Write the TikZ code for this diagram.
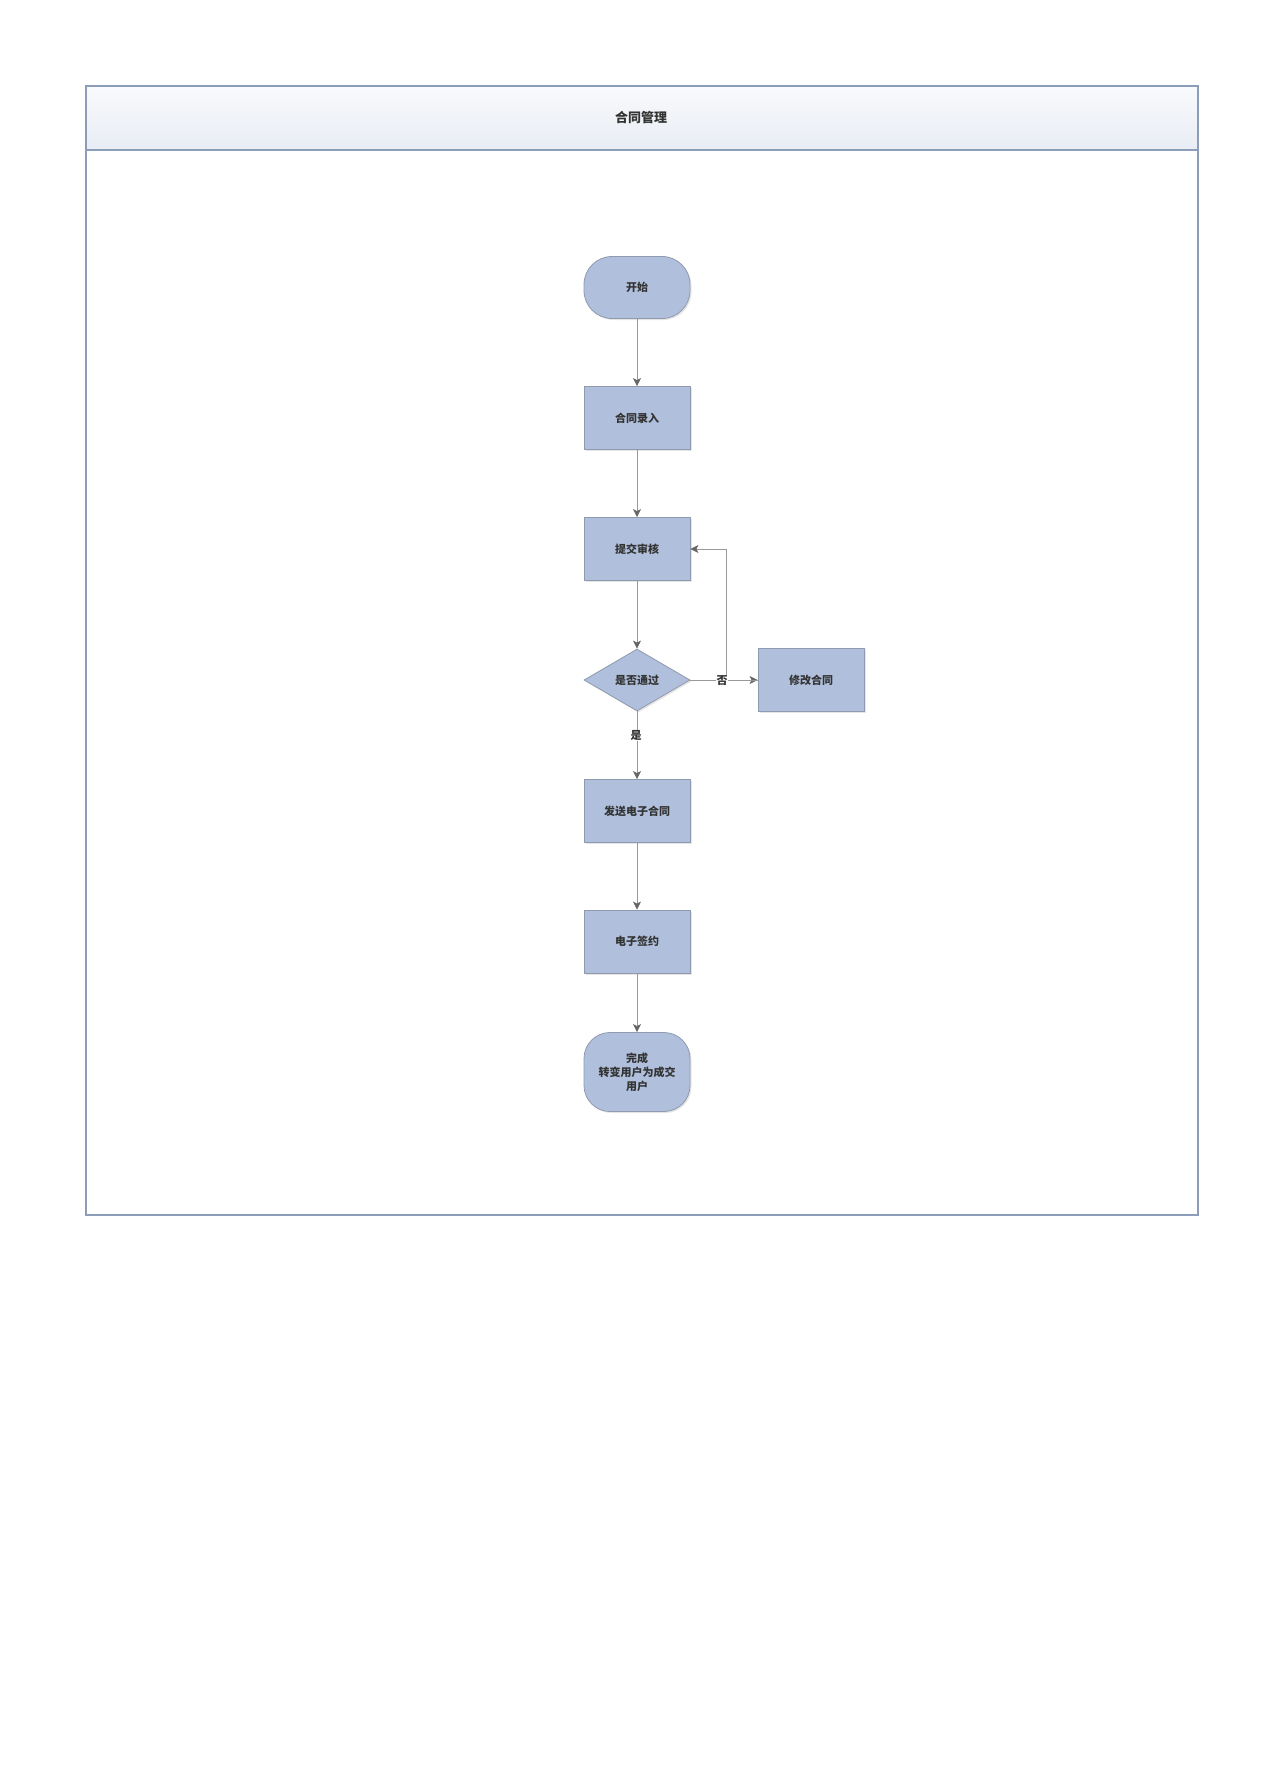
\documentclass[tikz,border=0pt]{standalone}
\usepackage{fontspec}
\setmainfont{Noto Sans CJK SC}
\usetikzlibrary{arrows.meta,shapes.geometric,shadows}
\definecolor{nodefill}{HTML}{B0C0DC}
\definecolor{nodeline}{HTML}{8F9AAE}
\definecolor{txt}{HTML}{333333}
\definecolor{frameline}{HTML}{8C9DBA}
\definecolor{conn}{HTML}{999999}
\definecolor{tip}{HTML}{666666}
\definecolor{headtop}{HTML}{F9FAFC}
\definecolor{headbot}{HTML}{E8ECF4}
\tikzset{
  x=1pt,y=-1pt,
  base/.style={draw=nodeline,fill=nodefill,line width=0.8pt,text=txt,font=\fontsize{11}{14}\selectfont\bfseries,align=center,
    drop shadow={shadow xshift=1.5pt,shadow yshift=-1.5pt,opacity=0.25,fill=black!40}},
  procbox/.style={base,rectangle,minimum width=106pt,minimum height=63pt,inner sep=0pt},
  termbox/.style={base,rectangle,rounded corners=28pt,minimum width=106pt,minimum height=62pt,inner sep=0pt},
  decbox/.style={base,diamond,aspect=1.68,minimum width=106pt,minimum height=62pt,inner sep=0pt},
  arr/.style={draw=conn,line width=0.8pt,-{Stealth[length=8pt,width=8pt,inset=2pt,fill=tip,color=tip]}},
  lbl/.style={fill=white,inner sep=0.5pt,text=txt,font=\fontsize{11}{14}\selectfont\bfseries}
}
\begin{document}
\begin{tikzpicture}
\useasboundingbox (0,0) rectangle (1265,1790);
% frame
\shade[top color=headtop,bottom color=headbot] (86,86) rectangle (1198,150);
\draw[frameline,line width=1.2pt] (86,86) rectangle (1198,1215);
\draw[frameline,line width=1.2pt] (86,150) -- (1198,150);
\node[text=txt,font=\fontsize{13}{16}\selectfont\bfseries] (title) at (641,117.5) {合同管理};
% nodes
\node[termbox] (start) at (637,287.5) {开始};
\node[procbox] (luru) at (637,418) {合同录入};
\node[procbox] (tijiao) at (637,549) {提交审核};
\node[decbox] (pass) at (637,680) {是否通过};
\node[procbox] (xiugai) at (811,680) {修改合同};
\node[procbox] (fasong) at (637,811) {发送电子合同};
\node[procbox] (qianyue) at (637,941.5) {电子签约};
\node[base,rectangle,rounded corners=26pt,minimum width=106pt,minimum height=79pt,inner sep=0pt] (wancheng) at (637,1072) {完成\\转变用户为成交\\用户};
% connectors
\draw[arr] (start) -- (luru);
\draw[arr] (luru) -- (tijiao);
\draw[arr] (tijiao) -- (pass);
\draw[arr] (pass) -- (xiugai);
\draw[arr] (xiugai.west) -- ++(-31,0) |- (tijiao.east);
\draw[arr] (pass) -- (fasong);
\draw[arr] (fasong) -- (qianyue);
\draw[arr] (qianyue) -- (wancheng);
\node[lbl] (no) at (722,681) {否};
\node[lbl] (yes) at (636,735.5) {是};
\end{tikzpicture}
\end{document}
